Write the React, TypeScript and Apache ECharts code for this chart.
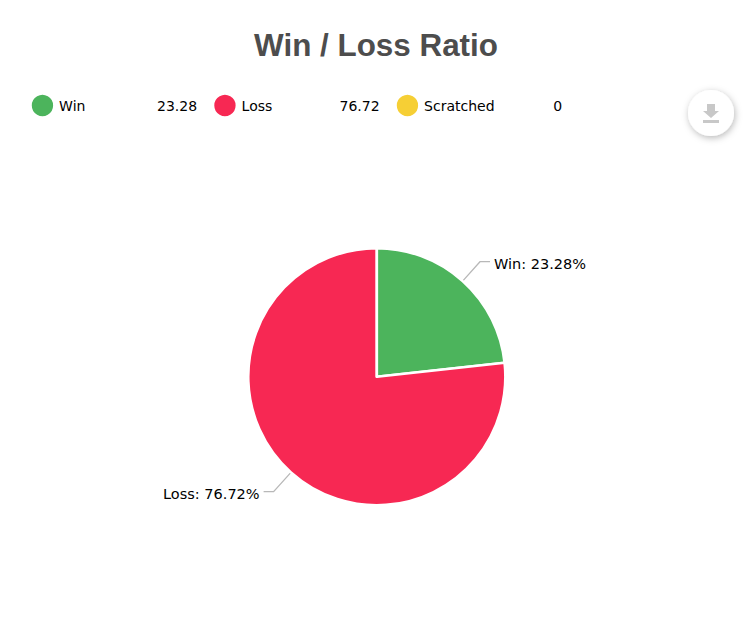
import React, { useEffect, useRef } from "react";
import * as echarts from "echarts";

const titleText = "Win / Loss Ratio";
const categories = ["Win", "Loss", "Scratched"];
const values = [23.28, 76.72, 0];
const colors = ["#4CB45C", "#F72853", "#F6CF35"];

const FONT = "'DejaVu Sans', sans-serif";

export default function App() {
  const ref = useRef<HTMLDivElement>(null);
  useEffect(() => {
    document.body.style.margin = "0";
    const chart = echarts.init(ref.current!, undefined, { renderer: "svg" });
    chart.setOption({
      animation: false,
      backgroundColor: "#fff",
      color: colors,
      title: {
        text: titleText,
        left: "center",
        top: 25,
        textStyle: { fontFamily: "'Liberation Sans', Arial, sans-serif", fontSize: 31.4, fontWeight: "bold", color: "#4D4D4D" },
      },
      legend: {
        left: 29.8,
        top: 92.8,
        orient: "horizontal",
        icon: "circle",
        itemWidth: 23.3,
        itemHeight: 23.3,
        itemGap: 15.2,
        padding: 0,
        selectedMode: false,
        data: categories,
        formatter: (name: string) => `{n|${name}}{v|${values[categories.indexOf(name)]}}`,
        textStyle: {
          fontFamily: FONT,
          fontSize: 14,
          color: "#000",
          rich: {
            n: { fontFamily: FONT, fontSize: 14, color: "#000", width: 90, align: "left", padding: [2, 0, 0, 0] },
            v: { fontFamily: FONT, fontSize: 14, color: "#000", width: 48, align: "right", padding: [2, 0, 0, 0] },
          },
        },
      },
      graphic: [
        {
          type: "circle",
          shape: { cx: 711, cy: 113, r: 23 },
          style: { fill: "#fff", shadowBlur: 7, shadowColor: "rgba(0,0,0,0.28)", shadowOffsetX: 1, shadowOffsetY: 2 },
        },
        { type: "polygon", shape: { points: [[707, 104], [715, 104], [715, 111], [719, 111], [711, 118], [703, 111], [707, 111]] }, style: { fill: "#C8C8C8" } },
        { type: "rect", shape: { x: 703, y: 120, width: 16, height: 3 }, style: { fill: "#C8C8C8" } },
      ],
      series: [
        {
          type: "pie",
          center: [376.8, 376.7],
          radius: [0, 128.5],
          startAngle: 90,
          clockwise: true,
          minShowLabelAngle: 0.01,
          avoidLabelOverlap: false,
          itemStyle: { borderColor: "#fff", borderWidth: 2.5 },
          emphasis: { disabled: true },
          label: {
            show: true,
            formatter: "{t|{b}: {c}%}",
            distanceToLabelLine: 4,
            rich: {
              t: { fontFamily: FONT, fontSize: 14.5, color: "#000", padding: [4, 0, 0, 0] },
            },
          },
          labelLine: { show: true, length: 26, length2: 10, smooth: false, lineStyle: { color: "#B8B8B8", width: 1.3 } },
          data: categories.map((name, i) => ({
            name,
            value: values[i],
            ...(values[i] === 0 ? { label: { show: false }, labelLine: { show: false } } : {}),
          })),
        },
      ],
    });
    return () => chart.dispose();
  }, []);
  return <div ref={ref} style={{ width: 752, height: 630 }} />;
}
